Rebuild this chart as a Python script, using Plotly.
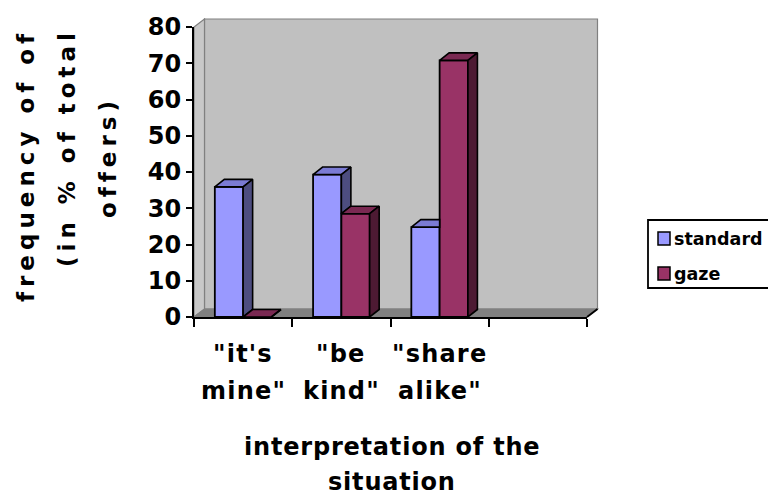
import plotly.graph_objects as go

# ---- data -------------------------------------------------------------
categories = ['"it\'s mine"', '"be kind"', '"share alike"']
series_names = ["standard", "gaze"]
standard = [35.9, 39.3, 24.8]
gaze = [0.0, 28.5, 70.8]
y_ticks = [0, 10, 20, 30, 40, 50, 60, 70, 80]
x_title_lines = ["interpretation of the", "situation"]
y_title_lines = ["frequency of of", "(in % of total", "offers)"]

# ---- geometry ---------------------------------------------------------
W, H = 768, 501
MARGIN = dict(l=194, r=181, t=27, b=184)
PLOT_W = W - MARGIN["l"] - MARGIN["r"]
PLOT_H = H - MARGIN["t"] - MARGIN["b"]
N_SLOTS = 4                      # three categories plus one empty slot
X_RANGE = [-0.5, N_SLOTS - 0.5]
Y_RANGE = [0, 80]
PX_PER_X = PLOT_W / N_SLOTS
PX_PER_Y = PLOT_H / (Y_RANGE[1] - Y_RANGE[0])

WALL_DX, WALL_DY = 10.5, 8.0     # depth of the box (px)
BAR_DX, BAR_DY = 9.5, 7.5        # depth of each column (px)
BAR_W = 0.288                    # column width in category units

FONT = "DejaVu Sans"

COLORS = {
    "standard": dict(front="#9999FF", top="#7B7BD4", side="#4D4D80"),
    "gaze": dict(front="#993366", top="#7A2952", side="#4D1A33"),
}


def px2paper_x(x_px):
    return (x_px - MARGIN["l"]) / PLOT_W


def px2paper_y(y_px):
    return (H - MARGIN["b"] - y_px) / PLOT_H


def bold(text, ls=0):
    if ls:
        text = f'<span style="letter-spacing:{ls}px">{text}</span>'
    return f"<b>{text}</b>"


fig = go.Figure()

# ---- front faces of the columns ---------------------------------------
x_idx = list(range(len(categories)))
for name, values, offset in (("standard", standard, -BAR_W), ("gaze", gaze, 0.0)):
    fig.add_trace(go.Bar(
        name=name, x=x_idx, y=values, width=BAR_W, offset=offset,
        marker=dict(color=COLORS[name]["front"], line=dict(color="black", width=1.8)),
        showlegend=False,
    ))

# ---- top and side faces (oblique projection) --------------------------
ddx = BAR_DX / PX_PER_X
ddy = BAR_DY / PX_PER_Y
faces = {(s, f): ([], []) for s in series_names for f in ("top", "side")}


def add_poly(key, pts):
    xs, ys = faces[key]
    for px_, py_ in pts + [pts[0]]:
        xs.append(px_)
        ys.append(py_)
    xs.append(None)
    ys.append(None)


for c, vs, vg in zip(x_idx, standard, gaze):
    w = BAR_W
    # left column: parts hidden behind the right column are left out
    if vg > vs:
        add_poly(("standard", "top"), [(c - w, vs), (c, vs), (c, vs + ddy), (c - w + ddx, vs + ddy)])
    else:
        add_poly(("standard", "top"), [(c - w, vs), (c, vs), (c + ddx, vs + ddy), (c - w + ddx, vs + ddy)])
    if vs > vg:
        add_poly(("standard", "side"), [(c, vg), (c, vs), (c + ddx, vs + ddy), (c + ddx, vg + ddy)])
    # right column
    add_poly(("gaze", "top"), [(c, vg), (c + w, vg), (c + w + ddx, vg + ddy), (c + ddx, vg + ddy)])
    add_poly(("gaze", "side"), [(c + w, 0), (c + w, vg), (c + w + ddx, vg + ddy), (c + w + ddx, ddy)])

for (s, f), (xs, ys) in faces.items():
    if not xs:
        continue
    fig.add_trace(go.Scatter(
        x=xs, y=ys, mode="lines", fill="toself", fillcolor=COLORS[s][f],
        line=dict(color="black", width=1.6), hoverinfo="skip", showlegend=False,
    ))

# ---- walls and floor --------------------------------------------------
dxp = WALL_DX / PLOT_W
dyp = WALL_DY / PLOT_H
wall_line = dict(color="#808080", width=1.2)
shapes = [
    dict(type="path", xref="paper", yref="paper", layer="below",
         path=f"M {dxp},{dyp} L {1+dxp},{dyp} L {1+dxp},{1+dyp} L {dxp},{1+dyp} Z",
         fillcolor="#C0C0C0", line=wall_line),
    dict(type="path", xref="paper", yref="paper", layer="below",
         path=f"M 0,0 L {dxp},{dyp} L {dxp},{1+dyp} L 0,1 Z",
         fillcolor="#C8C8C8", line=wall_line),
    dict(type="path", xref="paper", yref="paper", layer="below",
         path=f"M 0,0 L 1,0 L {1+dxp},{dyp} L {dxp},{dyp} Z",
         fillcolor="#808080", line=wall_line),
    dict(type="line", xref="paper", yref="paper", x0=1, y0=0, x1=1 + dxp, y1=dyp,
         line=dict(color="black", width=2)),
]

# ---- legend box -------------------------------------------------------
LEG_L, LEG_T, LEG_B = 648, 220, 288
shapes.append(dict(type="rect", xref="paper", yref="paper",
                   x0=px2paper_x(LEG_L), x1=px2paper_x(W + 10),
                   y0=px2paper_y(LEG_B), y1=px2paper_y(LEG_T),
                   fillcolor="white", line=dict(color="black", width=1.8)))
annotations = []
for k, name in enumerate(series_names):
    cy = 238.5 + 35 * k
    shapes.append(dict(type="rect", xref="paper", yref="paper",
                       x0=px2paper_x(658), x1=px2paper_x(670),
                       y0=px2paper_y(cy + 6.5), y1=px2paper_y(cy - 6.5),
                       fillcolor=COLORS[name]["front"], line=dict(color="black", width=1.5)))
    annotations.append(dict(xref="paper", yref="paper", x=px2paper_x(672), y=px2paper_y(cy),
                            xanchor="left", yanchor="middle", showarrow=False,
                            text=bold(name),
                            font=dict(family=FONT, size=17.5, color="black")))

# ---- category labels (two lines each) ---------------------------------
for i, cat in enumerate(categories):
    words = cat.split(" ")
    for j, word in enumerate(words):
        annotations.append(dict(xref="x", yref="paper", x=i, y=0, yanchor="middle",
                                yshift=-37 - 37 * j, showarrow=False,
                                text=bold(word, 1.2),
                                font=dict(family=FONT, size=24, color="black")))

# ---- axis titles --------------------------------------------------------
for j, line in enumerate(x_title_lines):
    annotations.append(dict(xref="paper", yref="paper", x=px2paper_x(392), y=px2paper_y(447 + 35 * j),
                            xanchor="center", yanchor="middle", showarrow=False,
                            text=bold(line, 0.8),
                            font=dict(family=FONT, size=24, color="black")))
for j, (line, cy) in enumerate(zip(y_title_lines, (166, 148, 157))):
    annotations.append(dict(xref="paper", yref="paper", x=px2paper_x(26 + 41 * j), y=px2paper_y(cy),
                            xanchor="center", yanchor="middle", showarrow=False, textangle=-90,
                            text=bold(line, 5),
                            font=dict(family=FONT, size=23, color="black")))

fig.update_layout(
    width=W, height=H, margin=dict(MARGIN, pad=0, autoexpand=False),
    paper_bgcolor="white", plot_bgcolor="rgba(0,0,0,0)",
    barmode="overlay", showlegend=False,
    shapes=shapes, annotations=annotations,
    font=dict(family=FONT, color="black"),
)
fig.update_xaxes(
    range=X_RANGE, showgrid=False, zeroline=False,
    showline=True, linecolor="black", linewidth=2,
    tickvals=[k - 0.5 for k in range(N_SLOTS + 1)], showticklabels=False,
    ticks="outside", ticklen=8, tickwidth=2, tickcolor="black",
)
fig.update_yaxes(
    range=Y_RANGE, showgrid=False, zeroline=False,
    showline=True, linecolor="black", linewidth=2,
    tickvals=y_ticks, ticktext=[bold(str(v)) for v in y_ticks],
    ticks="outside", ticklen=6, tickwidth=2, tickcolor="black",
    tickfont=dict(family=FONT, size=24, color="black"),
)

fig.write_html("out.html")
